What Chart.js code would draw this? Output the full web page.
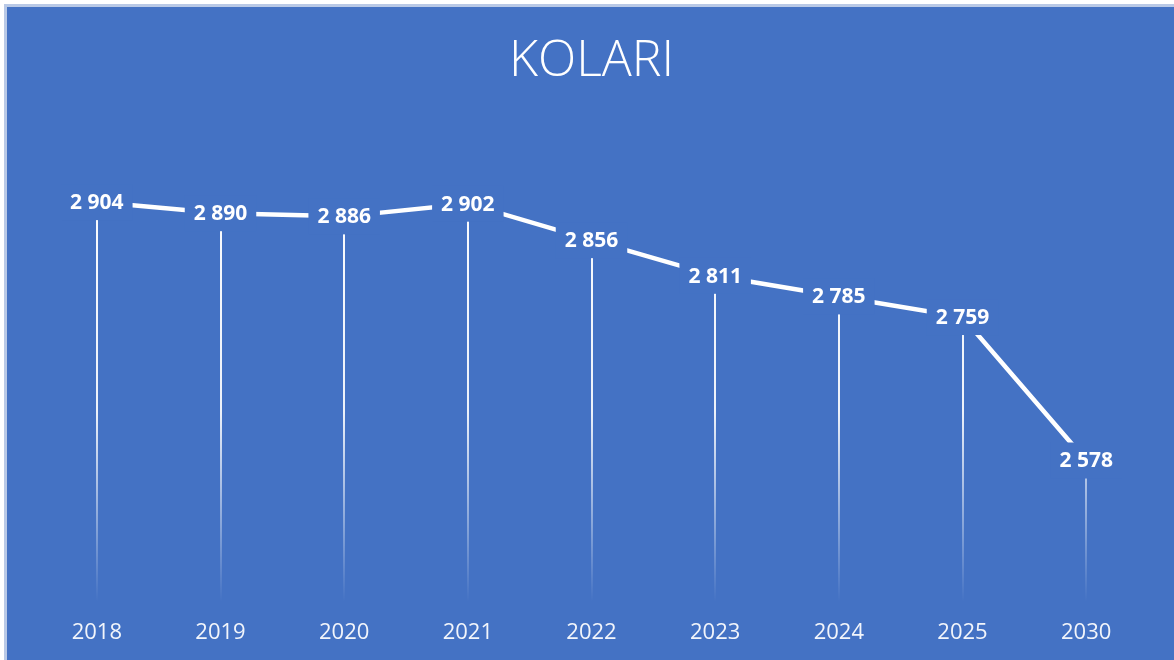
<!DOCTYPE html>
<html>
<head>
<meta charset="utf-8">
<script src="https://cdn.jsdelivr.net/npm/chart.js@4/dist/chart.umd.min.js"></script>
<style>
  html, body { margin: 0; padding: 0; background: #ffffff; }
  #kolariChart { display: block; }
</style>
</head>
<body>
<canvas id="kolariChart" width="1174" height="660"></canvas>
<script>
// Chart data
const years = ['2018', '2019', '2020', '2021', '2022', '2023', '2024', '2025', '2030'];
const population = [2904, 2890, 2886, 2902, 2856, 2811, 2785, 2759, 2578];
const chartTitle = 'KOLARI';

const bgBlue = '#4472C4';

// "2 904" style number formatting
function formatNumber(value) {
    return String(value).replace(/\B(?=(\d{3})+(?!\d))/g, ' ');
}

// Background + light frame on the top/left edges
const backgroundPlugin = {
    id: 'backgroundPlugin',
    beforeDraw(chart) {
        const ctx = chart.ctx;
        ctx.save();
        ctx.fillStyle = '#ffffff';
        ctx.fillRect(0, 0, chart.width, chart.height);
        ctx.fillStyle = '#b9c9e6';
        ctx.fillRect(4, 4, chart.width - 4, chart.height - 4);
        ctx.fillStyle = bgBlue;
        ctx.fillRect(7, 7, chart.width - 7, chart.height - 7);
        ctx.restore();
    }
};

// Drop lines under the points, and labels boxed on top of the line
const dropLinesAndLabels = {
    id: 'dropLinesAndLabels',
    beforeDatasetsDraw(chart) {
        const ctx = chart.ctx;
        const area = chart.chartArea;
        const meta = chart.getDatasetMeta(0);
        const grad = ctx.createLinearGradient(0, area.top, 0, area.bottom);
        grad.addColorStop(0, 'rgba(255,255,255,1)');
        grad.addColorStop(0.6, 'rgba(255,255,255,0.9)');
        grad.addColorStop(1, 'rgba(255,255,255,0)');
        ctx.save();
        ctx.strokeStyle = grad;
        ctx.lineWidth = 2;
        meta.data.forEach(pt => {
            ctx.beginPath();
            ctx.moveTo(Math.round(pt.x), pt.y);
            ctx.lineTo(Math.round(pt.x), area.bottom);
            ctx.stroke();
        });
        ctx.restore();
    },
    afterDatasetsDraw(chart) {
        const ctx = chart.ctx;
        const meta = chart.getDatasetMeta(0);
        const values = chart.data.datasets[0].data;
        ctx.save();
        ctx.font = 'bold 21px "Open Sans", sans-serif';
        ctx.textAlign = 'center';
        ctx.textBaseline = 'middle';
        meta.data.forEach((pt, i) => {
            const text = formatNumber(values[i]);
            const w = ctx.measureText(text).width + 18;
            const h = 36;
            ctx.fillStyle = bgBlue;
            ctx.fillRect(pt.x - w / 2, pt.y - h / 2, w, h);
            ctx.fillStyle = '#ffffff';
            ctx.fillText(text, pt.x, pt.y + 1);
        });
        ctx.restore();
    }
};

const chartConfig = {
    type: 'line',
    data: {
        labels: years,
        datasets: [{
            data: population,
            borderColor: '#ffffff',
            borderWidth: 4.5,
            pointRadius: 0,
            tension: 0,
            fill: false
        }]
    },
    options: {
        responsive: false,
        animation: false,
        layout: {
            padding: { left: 35, right: 26, top: 0, bottom: -4 }
        },
        scales: {
            x: {
                offset: true,
                grid: { display: false, drawTicks: false },
                border: { display: false },
                ticks: {
                    color: '#f2f5fb',
                    padding: 18,
                    font: { family: '"Open Sans", sans-serif', size: 22 }
                }
            },
            y: {
                display: false,
                min: 2400,
                max: 3000
            }
        },
        plugins: {
            legend: { display: false },
            tooltip: { enabled: false },
            title: {
                display: true,
                text: chartTitle,
                color: '#ffffff',
                padding: { top: 32, bottom: 34 },
                font: { family: '"Open Sans", sans-serif', size: 50, weight: 300, lineHeight: 1.2 }
            }
        }
    },
    plugins: [backgroundPlugin, dropLinesAndLabels]
};

function renderChart(chartId, config) {
    const chartCanvas = document.getElementById(chartId);
    new Chart(chartCanvas, config);
}

renderChart('kolariChart', chartConfig);
</script>
</body>
</html>
